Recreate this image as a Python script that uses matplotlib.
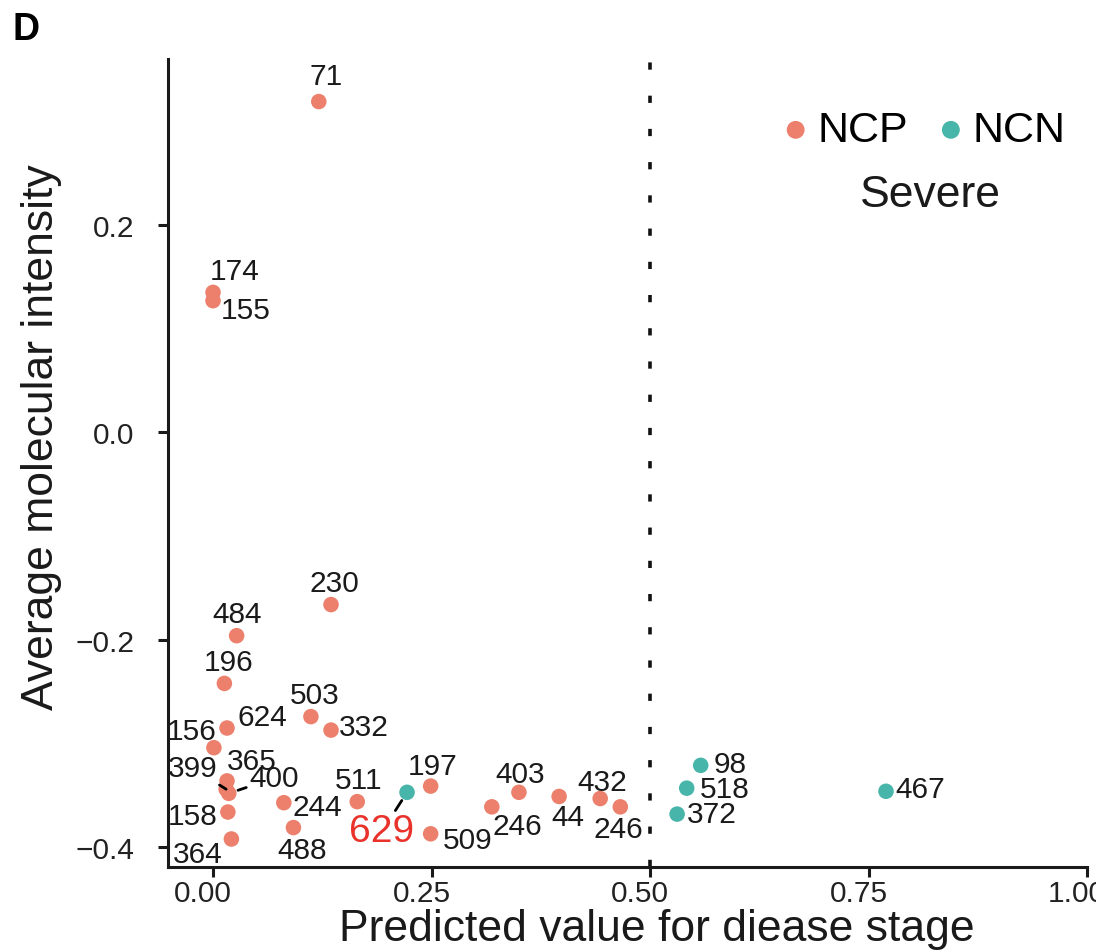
import matplotlib.pyplot as plt
import matplotlib.transforms as mtransforms

plt.rcParams['font.family'] = ['Liberation Sans', 'DejaVu Sans']

# sample ids, group and coordinates
sample_ids = ['71', '174', '155', '230', '484', '196', '503', '332', '624', '156',
              '365', '399', '400', '158', '364', '244', '488', '511', '629', '197',
              '509', '246', '403', '44', '432', '246', '98', '518', '372', '467']
groups = ['NCP'] * 18 + ['NCN'] + ['NCP'] * 7 + ['NCN'] * 4
pred_value = [0.121, 0.000, 0.000, 0.135, 0.027, 0.013, 0.112, 0.135, 0.016, 0.001,
              0.016, 0.015, 0.018, 0.017, 0.021, 0.081, 0.092, 0.165, 0.222, 0.249,
              0.249, 0.319, 0.350, 0.396, 0.443, 0.466, 0.558, 0.542, 0.531, 0.770]
mol_intensity = [0.319, 0.135, 0.127, -0.166, -0.196, -0.242, -0.274, -0.287, -0.285, -0.304,
                 -0.336, -0.344, -0.348, -0.366, -0.392, -0.357, -0.381, -0.356, -0.347, -0.341,
                 -0.387, -0.361, -0.347, -0.351, -0.353, -0.361, -0.321, -0.343, -0.368, -0.346]
highlight = '629'

# label placement (pixel offsets from each point, repel-style)
label_offsets = [(7, 26), (22, 21), (33, -9), (3, 22), (1, 22), (4, 21), (4, 22), (33, 3),
                 (35, 11), (-22, 17), (25, 20), (-33, 21), (45, 15), (-35, -4), (-34, -15),
                 (33, -4), (9, -22), (1, 22), (-25, -39), (2, 20), (37, -6), (26, -19),
                 (1, 18), (9, -21), (2, 17), (-2, -22), (29, 1), (38, -1), (35, 0), (34, 2)]
with_segment = {'399', '400', '629'}

colors = {'NCP': '#EC806C', 'NCN': '#47B5AA'}

fig = plt.figure(figsize=(10.96, 9.53), dpi=100)
ax = fig.add_axes([0.1533, 0.0892, 0.8385, 0.8478])

for g in ['NCP', 'NCN']:
    xs = [x for x, gg in zip(pred_value, groups) if gg == g]
    ys = [y for y, gg in zip(mol_intensity, groups) if gg == g]
    ax.scatter(xs, ys, s=125, color=colors[g], edgecolors='none', label=g, zorder=3)

for sid, x, y, off in zip(sample_ids, pred_value, mol_intensity, label_offsets):
    big = sid == highlight and x > 0.2
    kw = {}
    if sid in with_segment:
        kw['arrowprops'] = dict(arrowstyle='-', lw=2, color='black', shrinkA=0, shrinkB=7)
    ax.annotate(sid, (x, y), xytext=off, textcoords='offset pixels',
                ha='center', va='center', fontsize=28 if big else 21.5,
                color='#E8322A' if big else '#1a1a1a', **kw)

ax.axvline(0.5, color='#111111', lw=2.6, dashes=(2, 7.2), zorder=1)

ax.set_xlim(-0.0515, 1.0)
ax.set_ylim(-0.419, 0.36)
ax.set_xticks([0.0, 0.25, 0.5, 0.75, 1.0])
ax.set_xticklabels(['0.00', '0.25', '0.50', '0.75', '1.00'])
ax.set_yticks([-0.4, -0.2, 0.0, 0.2])
ax.set_yticklabels(['\u22120.4', '\u22120.2', '0.0', '0.2'])

for side in ['top', 'right']:
    ax.spines[side].set_visible(False)
for side in ['left', 'bottom']:
    ax.spines[side].set_linewidth(2.2)
    ax.spines[side].set_color('#1a1a1a')
ax.tick_params(axis='both', length=7, width=2.2, color='#1a1a1a', labelsize=21.5, labelcolor='#222222')
ax.tick_params(axis='x', pad=2)
ax.tick_params(axis='y', pad=17)
shift = mtransforms.ScaledTranslation(-10 / 100, 0, fig.dpi_scale_trans)
for lbl in ax.get_xticklabels():
    lbl.set_transform(lbl.get_transform() + shift)

ax.set_xlabel('Predicted value for diease stage', fontsize=32, color='#1a1a1a')
ax.set_ylabel('Average molecular intensity', fontsize=32, color='#1a1a1a')
ax.xaxis.set_label_coords(0.532, -0.051)
ax.yaxis.set_label_coords(-0.115, 0.533)

leg = ax.legend(loc='center', bbox_to_anchor=(0.818, 0.912), ncol=2, frameon=False,
                fontsize=31, handletextpad=0.0, columnspacing=0.5, markerscale=1.15,
                borderpad=0, handlelength=1.0)
ax.text(0.830, 0.832, 'Severe', transform=ax.transAxes, ha='center', va='center',
        fontsize=32, color='#1a1a1a')

fig.text(0.011, 0.968, 'D', fontsize=27, fontweight='bold', va='center', ha='left')

fig.savefig('out.png', dpi=100)
